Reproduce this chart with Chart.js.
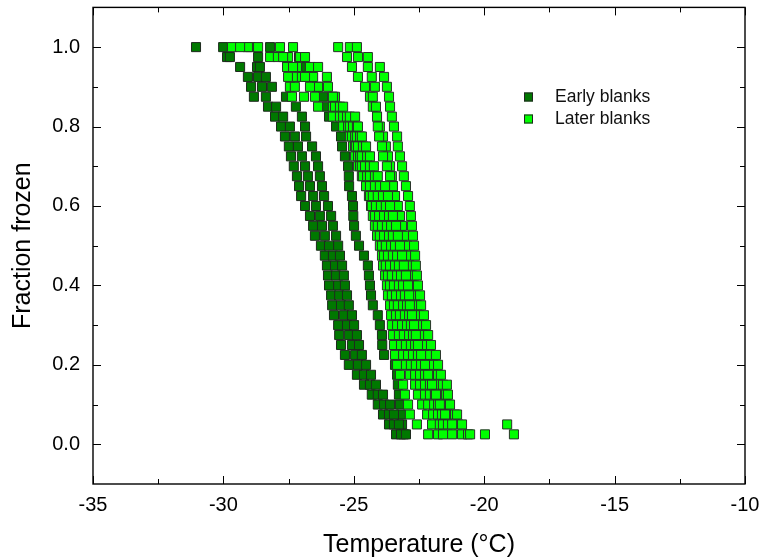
<!DOCTYPE html>
<html>
<head>
<meta charset="utf-8">
<title>Fraction frozen</title>
<script src="https://cdn.jsdelivr.net/npm/chart.js@4.4.1/dist/chart.umd.min.js"></script>
<style>
    html, body { margin: 0; padding: 0; background: #ffffff; }
    #container { width: 763px; height: 560px; }
</style>
</head>
<body>
<div id="container"><canvas id="myChart" width="763" height="560"></canvas></div>
<script>
// fraction frozen levels shared by every run (40 droplets each)
const fractionLevels = [1.000, 0.975, 0.950, 0.925, 0.900, 0.875, 0.850, 0.825, 0.800, 0.775,
    0.750, 0.725, 0.700, 0.675, 0.650, 0.625, 0.600, 0.575, 0.550, 0.525,
    0.500, 0.475, 0.450, 0.425, 0.400, 0.375, 0.350, 0.325, 0.300, 0.275,
    0.250, 0.225, 0.200, 0.175, 0.150, 0.125, 0.100, 0.075, 0.050, 0.025];

// freezing temperatures (°C), one array per run
const early1 = [-31.05, -29.86, -29.36, -29.06, -28.94, -28.83, -28.29, -28.02, -27.79, -27.64,
    -27.49, -27.41, -27.30, -27.18, -27.10, -27.02, -26.87, -26.68, -26.56, -26.49,
    -26.26, -26.11, -26.03, -25.99, -25.95, -25.87, -25.83, -25.76, -25.60, -25.56,
    -25.49, -25.34, -25.19, -24.88, -24.61, -24.31, -24.08, -23.88, -23.65, -23.38];
const early2 = [-28.21, -27.10, -26.83, -26.60, -26.37, -26.18, -26.03, -25.95, -25.68, -25.49,
    -25.45, -25.34, -25.22, -25.19, -25.18, -25.07, -25.03, -25.02, -24.99, -24.92,
    -24.80, -24.61, -24.46, -24.42, -24.38, -24.34, -24.27, -24.08, -24.00, -23.92,
    -23.91, -23.84, -23.42, -23.34, -23.31, -23.27, -23.23, -23.19, -23.15, -23.08];
const early3 = [-30.01, -29.75, -28.71, -28.67, -28.52, -28.37, -27.98, -27.71, -27.45, -27.26,
    -27.14, -26.99, -26.87, -26.76, -26.68, -26.56, -26.45, -26.30, -26.22, -26.11,
    -25.95, -25.80, -25.72, -25.68, -25.60, -25.56, -25.49, -25.38, -25.26, -25.19,
    -25.07, -24.95, -24.84, -24.61, -24.38, -24.08, -23.84, -23.65, -23.46, -23.19];
const early4 = [-28.98, -28.67, -28.60, -28.37, -28.14, -27.60, -27.22, -26.99, -26.87, -26.83,
    -26.60, -26.45, -26.37, -26.30, -26.22, -26.14, -25.99, -25.87, -25.80, -25.68,
    -25.60, -25.53, -25.45, -25.38, -25.34, -25.26, -25.19, -25.07, -24.99, -24.88,
    -24.80, -24.69, -24.53, -24.34, -24.15, -23.88, -23.61, -23.46, -23.27, -23.00];

const later1 = [-29.67, -28.21, -27.56, -27.52, -27.45, -27.37, -26.37, -25.80, -25.41, -25.15,
    -25.03, -24.95, -24.84, -24.69, -24.53, -24.42, -24.34, -24.27, -24.19, -24.11,
    -24.00, -23.92, -23.88, -23.80, -23.73, -23.69, -23.61, -23.57, -23.54, -23.50,
    -23.46, -23.42, -23.34, -23.23, -23.11, -23.04, -22.92, -22.85, -22.58, -22.15];
const later2 = [-29.06, -27.91, -27.56, -27.18, -27.26, -26.91, -25.80, -25.53, -25.22, -25.07,
    -24.95, -24.84, -24.76, -24.65, -24.53, -24.38, -24.31, -24.19, -24.08, -24.00,
    -23.92, -23.84, -23.77, -23.69, -23.61, -23.54, -23.46, -23.38, -23.34, -23.27,
    -23.19, -23.11, -23.00, -22.85, -22.65, -22.54, -22.38, -22.19, -22.00, -21.77];
const later3 = [-28.67, -27.52, -27.18, -26.99, -26.41, -25.72, -25.64, -25.41, -25.15, -24.95,
    -24.92, -24.76, -24.69, -24.49, -24.38, -24.27, -24.15, -24.03, -23.92, -23.84,
    -23.77, -23.69, -23.61, -23.54, -23.46, -23.38, -23.31, -23.23, -23.15, -23.08,
    -23.00, -22.92, -22.81, -22.65, -22.46, -22.27, -22.15, -21.96, -21.70, -21.58];
const later4 = [-27.83, -27.06, -26.68, -26.56, -26.37, -25.83, -25.72, -25.26, -25.03, -24.88,
    -24.84, -24.69, -24.57, -24.38, -24.19, -24.08, -23.96, -23.84, -23.73, -23.65,
    -23.57, -23.50, -23.42, -23.34, -23.27, -23.19, -23.11, -23.04, -22.96, -22.88,
    -22.81, -22.73, -22.62, -22.46, -22.27, -22.08, -21.92, -21.77, -21.58, -21.23];
const later5 = [-27.33, -26.87, -26.37, -26.03, -25.99, -25.80, -25.53, -25.15, -24.88, -24.76,
    -24.65, -24.49, -24.38, -24.19, -24.00, -23.88, -23.77, -23.65, -23.57, -23.50,
    -23.42, -23.34, -23.27, -23.19, -23.11, -23.04, -22.96, -22.88, -22.81, -22.73,
    -22.65, -22.54, -22.42, -22.27, -22.08, -21.89, -21.77, -21.62, -21.39, -20.85];
const later6 = [-25.60, -25.26, -25.07, -24.84, -24.57, -24.38, -24.27, -24.11, -24.00, -23.88,
    -23.77, -23.69, -23.61, -23.54, -23.50, -23.42, -23.34, -23.27, -23.23, -23.15,
    -23.11, -23.04, -23.00, -22.92, -22.85, -22.77, -22.73, -22.65, -22.58, -22.50,
    -22.42, -22.31, -22.15, -22.04, -21.81, -21.70, -21.58, -21.43, -21.00, -20.62];
const later7 = [-25.15, -24.84, -24.46, -24.31, -24.19, -24.27, -24.15, -24.11, -24.08, -24.03,
    -23.92, -23.88, -23.73, -23.61, -23.50, -23.42, -23.31, -23.23, -23.15, -23.04,
    -22.96, -22.88, -22.85, -22.77, -22.69, -22.65, -22.58, -22.50, -22.38, -22.35,
    -22.27, -22.08, -21.96, -21.77, -21.58, -21.46, -21.39, -21.12, -20.85, -19.97];
const later8 = [-24.88, -24.46, -24.00, -23.84, -23.73, -23.65, -23.61, -23.54, -23.46, -23.34,
    -23.31, -23.23, -23.15, -23.08, -23.00, -22.92, -22.85, -22.81, -22.77, -22.73,
    -22.69, -22.65, -22.62, -22.58, -22.54, -22.46, -22.42, -22.31, -22.23, -22.15,
    -22.04, -21.85, -21.77, -21.66, -21.43, -21.39, -21.31, -21.04, -19.12, -18.86];
const later9 = [-29.36, -27.71, -27.33, -26.87, -26.68, -26.49, -25.41, -24.95, -24.84, -24.69,
    -24.53, -24.38, -24.23, -24.08, -23.80, -23.69, -23.61, -23.50, -23.38, -23.31,
    -23.23, -23.15, -23.08, -23.00, -22.92, -22.88, -22.85, -22.77, -22.69, -22.62,
    -22.54, -22.42, -22.27, -22.15, -22.00, -21.85, -21.70, -21.50, -21.23, -20.54];

const seriesNames = ['Early blanks', 'Later blanks'];
const xTicks = [-35, -30, -25, -20, -15, -10];
const xMinorTicks = [-32.5, -27.5, -22.5, -17.5, -12.5];
const yTicks = [0.0, 0.2, 0.4, 0.6, 0.8, 1.0];
const yMinorTicks = [0.1, 0.3, 0.5, 0.7, 0.9];

const darkGreen = '#007800';
const lightGreen = '#00ff00';
const font = "'Liberation Sans', Arial, sans-serif";

let myChart;

document.addEventListener('DOMContentLoaded', () => {
    createChart();
});

function toPoints(temps) {
    return temps.map((t, i) => ({ x: t, y: fractionLevels[i] }));
}

// frame, inward ticks on all four sides and the legend inside the plot
const frameAndLegend = {
    id: 'frameAndLegend',
    afterDraw(chart) {
        const { ctx, chartArea: a, scales } = chart;
        const x = scales.x;
        const y = scales.y;
        ctx.save();
        ctx.strokeStyle = '#000';
        ctx.lineWidth = 1;
        ctx.beginPath();
        const xMark = (vals, len) => {
            vals.forEach(v => {
                const px = Math.round(x.getPixelForValue(v)) + 0.5;
                ctx.moveTo(px, a.bottom); ctx.lineTo(px, a.bottom - len);
                ctx.moveTo(px, a.top); ctx.lineTo(px, a.top + len);
            });
        };
        const yMark = (vals, len) => {
            vals.forEach(v => {
                const py = Math.round(y.getPixelForValue(v)) + 0.5;
                ctx.moveTo(a.left, py); ctx.lineTo(a.left + len, py);
                ctx.moveTo(a.right, py); ctx.lineTo(a.right - len, py);
            });
        };
        xMark(xTicks, 8);
        xMark(xMinorTicks, 5);
        yMark(yTicks, 8);
        yMark(yMinorTicks, 5);
        ctx.stroke();
        ctx.lineWidth = 1.4;
        ctx.strokeRect(a.left, a.top, a.right - a.left, a.bottom - a.top);

        // legend
        const colors = [darkGreen, lightGreen];
        const rows = [97, 119];
        ctx.font = '17.5px ' + font;
        ctx.textBaseline = 'middle';
        seriesNames.forEach((name, i) => {
            ctx.fillStyle = colors[i];
            ctx.fillRect(524, rows[i] - 4.5, 9, 9);
            ctx.lineWidth = 1;
            ctx.strokeStyle = '#222';
            ctx.strokeRect(524.5, rows[i] - 4, 8, 8);
            ctx.fillStyle = '#111';
            ctx.fillText(name, 555, rows[i]);
        });
        ctx.restore();
    }
};

function createChart() {
    const ctx = document.getElementById('myChart').getContext('2d');
    const earlyPoints = [early1, early2, early3, early4].flatMap(toPoints);
    const laterPoints = [later1, later2, later3, later4, later5, later6, later7, later8, later9].flatMap(toPoints);

    myChart = new Chart(ctx, {
        type: 'scatter',
        data: {
            datasets: [{
                label: seriesNames[0],
                data: earlyPoints,
                order: 1,
                pointStyle: 'rect',
                pointRadius: 6.4,
                backgroundColor: darkGreen,
                borderColor: '#1e2a1e',
                borderWidth: 1
            }, {
                label: seriesNames[1],
                data: laterPoints,
                order: 0,
                pointStyle: 'rect',
                pointRadius: 6.4,
                backgroundColor: lightGreen,
                borderColor: '#2a332a',
                borderWidth: 1
            }]
        },
        options: {
            responsive: false,
            animation: false,
            devicePixelRatio: 1,
            layout: { padding: { left: 0, right: 18, top: 7, bottom: 0 } },
            plugins: {
                legend: { display: false },
                tooltip: { enabled: false }
            },
            scales: {
                x: {
                    type: 'linear',
                    min: -35,
                    max: -10,
                    afterFit: scale => {
                        scale.height = 76;
                        scale.paddingLeft = 0;
                        scale.paddingRight = 0;
                    },
                    afterBuildTicks: scale => { scale.ticks = xTicks.map(v => ({ value: v })); },
                    grid: { display: false, drawTicks: false },
                    border: { display: false },
                    ticks: {
                        padding: 9,
                        color: '#000',
                        font: { family: font, size: 20 },
                        callback: v => String(v)
                    },
                    title: {
                        display: true,
                        text: 'Temperature (°C)',
                        color: '#000',
                        font: { family: font, size: 25 },
                        padding: { top: 0, bottom: 0 }
                    }
                },
                y: {
                    type: 'linear',
                    min: -0.1,
                    max: 1.1,
                    afterFit: scale => {
                        scale.width = 93;
                        scale.paddingTop = 0;
                        scale.paddingBottom = 0;
                    },
                    afterBuildTicks: scale => { scale.ticks = yTicks.map(v => ({ value: v })); },
                    grid: { display: false, drawTicks: false },
                    border: { display: false },
                    ticks: {
                        padding: 13,
                        color: '#000',
                        font: { family: font, size: 20 },
                        callback: v => v.toFixed(1)
                    },
                    title: {
                        display: true,
                        text: 'Fraction frozen',
                        color: '#000',
                        font: { family: font, size: 25 },
                        padding: { top: 8, bottom: 0 }
                    }
                }
            }
        },
        plugins: [frameAndLegend]
    });
}
</script>
</body>
</html>
